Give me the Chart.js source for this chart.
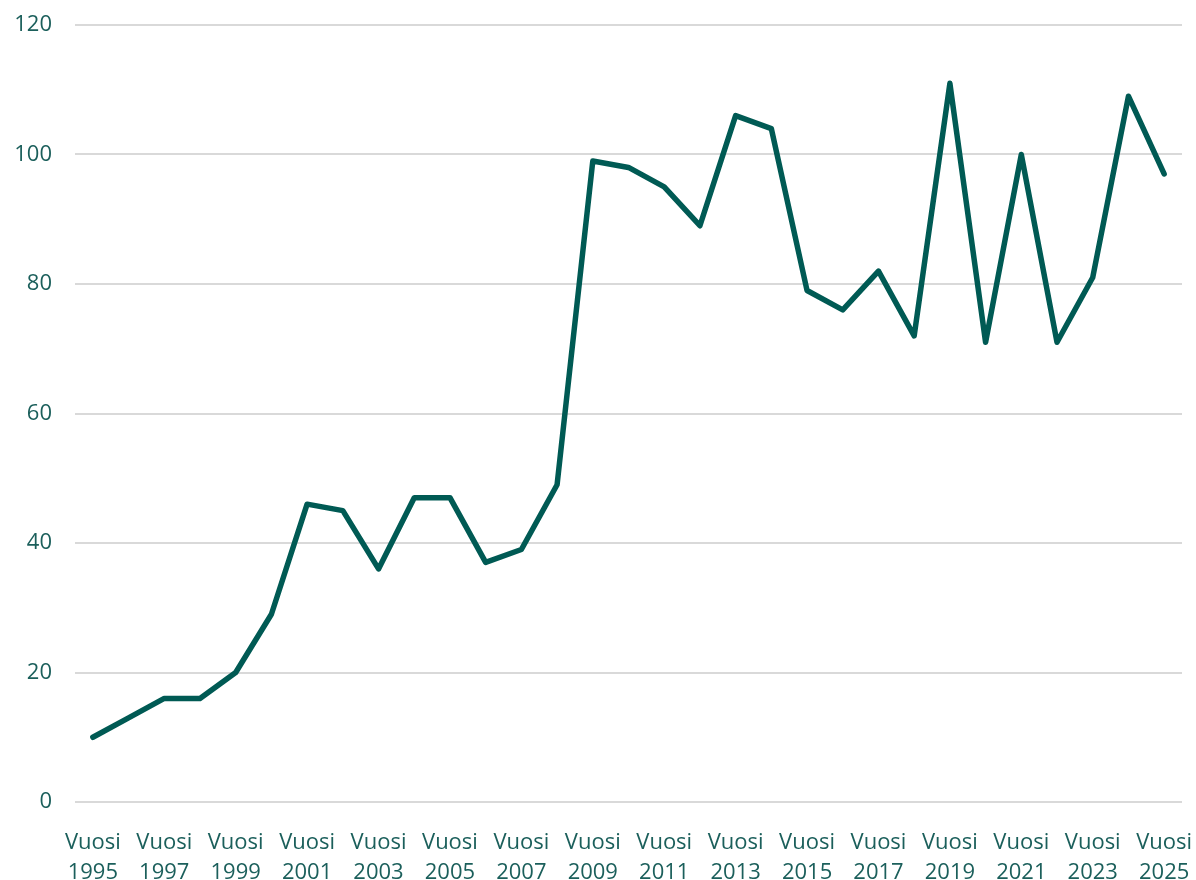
<!DOCTYPE html>
<html>
<head>
    <script src="https://cdn.jsdelivr.net/npm/chart.js@4"></script>
    <style>
        html, body { margin: 0; padding: 0; background: #ffffff; }
        #wrap { width: 1196px; height: 880px; position: relative; }
    </style>
</head>
<body>
    <div id="wrap"><canvas id="chart"></canvas></div>
    <script>
        const years = [1995, 1996, 1997, 1998, 1999, 2000, 2001, 2002, 2003, 2004, 2005, 2006, 2007, 2008, 2009, 2010,
            2011, 2012, 2013, 2014, 2015, 2016, 2017, 2018, 2019, 2020, 2021, 2022, 2023, 2024, 2025]
        const values = [10, 13, 16, 16, 20, 29, 46, 45, 36, 47, 47, 37, 39, 49, 99, 98,
            95, 89, 106, 104, 79, 76, 82, 72, 111, 71, 100, 71, 81, 109, 97]
        const yTicks = [0, 20, 40, 60, 80, 100, 120]

        const textColor = '#1b5f5b'
        const labels = years.map(y => ['Vuosi', String(y)])

        new Chart(document.getElementById('chart'), {
            type: 'line',
            data: {
                labels: labels,
                datasets: [{
                    data: values,
                    borderColor: '#005a54',
                    borderWidth: 5.5,
                    pointRadius: 0,
                    tension: 0,
                    borderCapStyle: 'round',
                    borderJoinStyle: 'round',
                    fill: false
                }]
            },
            options: {
                responsive: true,
                maintainAspectRatio: false,
                animation: false,
                layout: { padding: { top: 25, left: 0, right: 14, bottom: 0 } },
                plugins: { legend: { display: false }, tooltip: { enabled: false } },
                scales: {
                    x: {
                        offset: true,
                        grid: { display: false },
                        border: { display: false },
                        afterFit: axis => {
                            axis.height = 78
                            axis.paddingLeft = 0
                            axis.paddingRight = 0
                        },
                        ticks: {
                            autoSkip: false,
                            maxRotation: 0,
                            color: textColor,
                            padding: 18,
                            font: { family: 'Open Sans', size: 22, lineHeight: 1.35 },
                            callback: function (val, i) { return i % 2 === 0 ? labels[i] : '' }
                        }
                    },
                    y: {
                        min: 0,
                        max: 120,
                        afterBuildTicks: axis => { axis.ticks = yTicks.map(v => ({ value: v })) },
                        afterFit: axis => {
                            axis.width = 75
                            axis.paddingTop = 0
                            axis.paddingBottom = 0
                        },
                        grid: { color: '#d9d9d9', lineWidth: 2, drawTicks: false },
                        border: { display: false },
                        ticks: {
                            color: textColor,
                            padding: 23,
                            font: { family: 'Open Sans', size: 22 }
                        }
                    }
                }
            }
        })
    </script>
</body>
</html>
